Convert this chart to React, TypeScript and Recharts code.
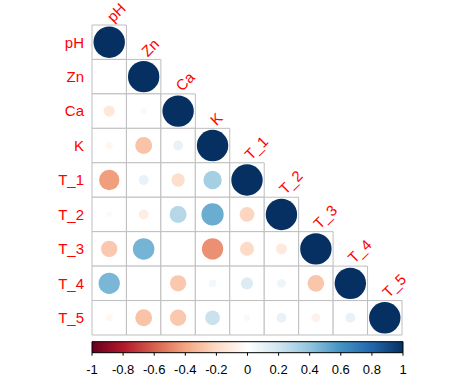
import {
  ScatterChart,
  Scatter,
  ComposedChart,
  XAxis,
  YAxis,
  ZAxis,
  Cell,
  ReferenceArea,
} from "recharts";

const VARS = ["pH", "Zn", "Ca", "K", "T_1", "T_2", "T_3", "T_4", "T_5"];

// lower triangle, one row per variable
const ROW_PH = [1];
const ROW_ZN = [0.01, 1];
const ROW_CA = [-0.13, 0.04, 1];
const ROW_K = [-0.05, -0.29, 0.1, 1];
const ROW_T1 = [-0.42, 0.1, -0.18, 0.34, 1];
const ROW_T2 = [0.03, -0.1, 0.29, 0.5, -0.22, 1];
const ROW_T3 = [-0.27, 0.47, 0.0, -0.46, -0.2, -0.12, 1];
const ROW_T4 = [0.46, 0.01, -0.27, 0.06, 0.15, 0.08, -0.28, 1];
const ROW_T5 = [-0.05, -0.29, -0.27, 0.22, 0.04, 0.1, -0.08, 0.1, 1];
const ROWS = [ROW_PH, ROW_ZN, ROW_CA, ROW_K, ROW_T1, ROW_T2, ROW_T3, ROW_T4, ROW_T5];

const PALETTE = [
  "#67001F", "#B2182B", "#D6604D", "#F4A582", "#FDDBC7", "#FFFFFF",
  "#D1E5F0", "#92C5DE", "#4393C3", "#2166AC", "#053061",
];
const BAR_TICKS = [-1, -0.8, -0.6, -0.4, -0.2, 0, 0.2, 0.4, 0.6, 0.8, 1];

const W = 464;
const H = 378;
const PLOT_LEFT = 92;
const PLOT_TOP = 25;
const PLOT_SIZE = 310;
const CELL = PLOT_SIZE / VARS.length;
const MAX_R = 15.7;
const FONT = "'Liberation Sans', Arial, sans-serif";

function hex(c: string) {
  return [1, 3, 5].map((i) => parseInt(c.slice(i, i + 2), 16));
}

function colorFor(v: number) {
  const t = ((Math.max(-1, Math.min(1, v)) + 1) / 2) * (PALETTE.length - 1);
  const i = Math.min(Math.floor(t), PALETTE.length - 2);
  const f = t - i;
  const a = hex(PALETTE[i]);
  const b = hex(PALETTE[i + 1]);
  const m = a.map((x, k) => Math.round(x + (b[k] - x) * f));
  return `rgb(${m[0]},${m[1]},${m[2]})`;
}

const cells = ROWS.flatMap((row, i) =>
  row.map((v, j) => ({ x: j, y: i, v, abs: Math.abs(v) }))
);
const diag = VARS.map((name, i) => ({ x: i, y: i, name }));
const barData = BAR_TICKS.map((t, k) => ({ x: t, y: k % 2 }));

function DiagLabel(props: any) {
  const { cx, cy, payload } = props;
  const x = cx + 4;
  const y = cy - CELL / 2 - 2;
  return (
    <text
      x={x}
      y={y}
      fill="#FF0000"
      fontSize={15}
      fontFamily={FONT}
      textAnchor="start"
      transform={`rotate(-45 ${x} ${y})`}
    >
      {payload.name}
    </text>
  );
}

export default function App() {
  return (
    <div style={{ position: "absolute", left: 0, top: 0, width: W, height: H, background: "#fff" }}>
      <ScatterChart
        width={W}
        height={H}
        margin={{ top: PLOT_TOP, right: W - PLOT_LEFT - PLOT_SIZE, bottom: H - PLOT_TOP - PLOT_SIZE, left: 0 }}
      >
        <XAxis type="number" dataKey="x" domain={[-0.5, 8.5]} hide />
        <YAxis
          type="number"
          dataKey="y"
          domain={[-0.5, 8.5]}
          reversed
          width={PLOT_LEFT}
          ticks={[0, 1, 2, 3, 4, 5, 6, 7, 8]}
          tickFormatter={(v: number) => VARS[v]}
          axisLine={false}
          tickLine={false}
          tick={{ fill: "#FF0000", fontSize: 15, fontFamily: FONT }}
          interval={0}
        />
        <ZAxis type="number" dataKey="abs" domain={[0, 1]} range={[0, Math.PI * MAX_R * MAX_R]} />
        {cells.map((c) => (
          <ReferenceArea
            key={`${c.x}-${c.y}`}
            x1={c.x - 0.5}
            x2={c.x + 0.5}
            y1={c.y - 0.5}
            y2={c.y + 0.5}
            fill="#FFFFFF"
            fillOpacity={1}
            stroke="#BEBEBE"
            strokeWidth={1}
          />
        ))}
        <Scatter data={cells} shape="circle" isAnimationActive={false}>
          {cells.map((c) => (
            <Cell key={`${c.x}-${c.y}`} fill={colorFor(c.v)} />
          ))}
        </Scatter>
        <Scatter data={diag} shape={<DiagLabel />} isAnimationActive={false} />
      </ScatterChart>
      <div style={{ position: "absolute", left: 0, top: PLOT_TOP + PLOT_SIZE }}>
        <ComposedChart
          width={W}
          height={H - PLOT_TOP - PLOT_SIZE}
          data={barData}
          margin={{ top: 6.7, right: W - PLOT_LEFT - PLOT_SIZE - 1, bottom: 0, left: PLOT_LEFT }}
        >
          <defs>
            <linearGradient id="corrbar" x1="0" y1="0" x2="1" y2="0">
              {PALETTE.map((c, k) => (
                <stop key={k} offset={k / (PALETTE.length - 1)} stopColor={c} />
              ))}
            </linearGradient>
          </defs>
          <XAxis
            type="number"
            dataKey="x"
            domain={[-1, 1]}
            ticks={BAR_TICKS}
            interval={0}
            height={25.3}
            axisLine={false}
            tickSize={3}
            tickMargin={8.6}
            tickLine={{ stroke: "#000" }}
            tick={{ fill: "#000", fontSize: 13, fontFamily: FONT }}
            tickFormatter={(v: number) => String(Number(v.toFixed(1)))}
          />
          <YAxis type="number" dataKey="y" domain={[0, 1]} hide />
          <ReferenceArea
            x1={-1}
            x2={1}
            y1={0}
            y2={1}
            ifOverflow="visible"
            fill="url(#corrbar)"
            fillOpacity={1}
            stroke="#000"
            strokeWidth={1}
          />
        </ComposedChart>
      </div>
    </div>
  );
}
